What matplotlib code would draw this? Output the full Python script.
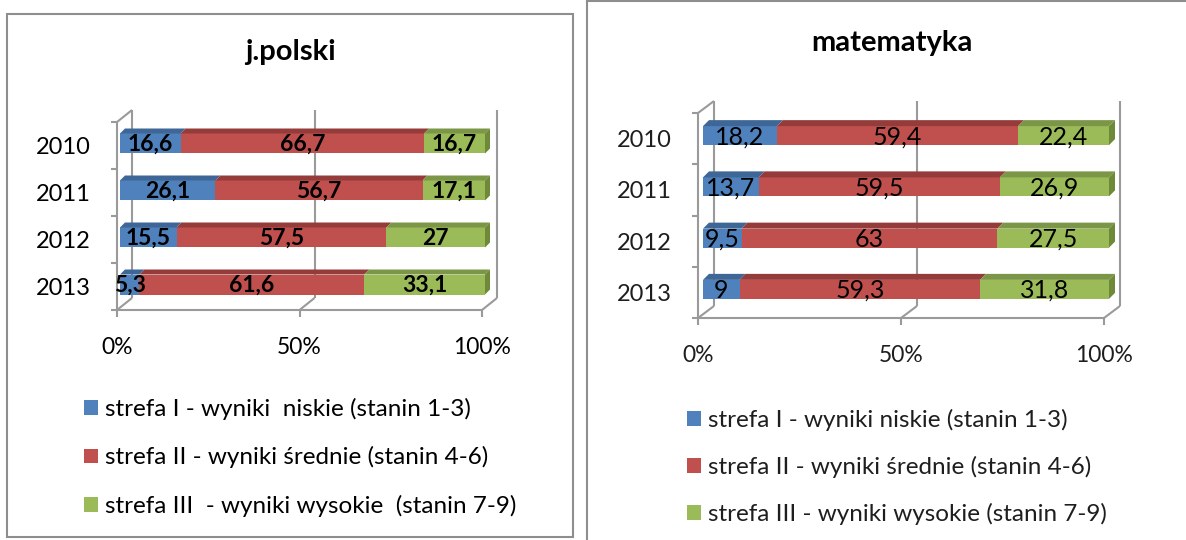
import numpy as np
import matplotlib.pyplot as plt
from matplotlib.patches import Polygon, Rectangle
from matplotlib.lines import Line2D

plt.rcParams['font.family'] = ['Lato', 'DejaVu Sans']

# data (percent of students per zone)
years = ["2010", "2011", "2012", "2013"]
pl_low = [16.6, 26.1, 15.5, 5.3]
pl_mid = [66.7, 56.7, 57.5, 61.6]
pl_high = [16.7, 17.1, 27, 33.1]
mat_low = [18.2, 13.7, 9.5, 9]
mat_mid = [59.4, 59.5, 63, 59.3]
mat_high = [22.4, 26.9, 27.5, 31.8]
ticks = [0, 50, 100]
tick_labels = ["0%", "50%", "100%"]

pl_legend = ["strefa I - wyniki  niskie (stanin 1-3)",
             "strefa II - wyniki średnie (stanin 4-6)",
             "strefa III  - wyniki wysokie  (stanin 7-9)"]
mat_legend = ["strefa I - wyniki niskie (stanin 1-3)",
              "strefa II - wyniki średnie (stanin 4-6)",
              "strefa III - wyniki wysokie (stanin 7-9)"]

FACE = ["#4F81BD", "#C0504D", "#9BBB59"]
TOP = ["#3E6797", "#953C3A", "#7C9647"]
SIDE = "#6E8A38"
GRID = "#9a9a9a"

W, H = 1186, 540
fig = plt.figure(figsize=(W / 100, H / 100), dpi=100)


def fx(px):
    return px / W


def fy(py):
    return 1 - py / H


def fmt(v):
    return f"{v:g}".replace(".", ",")


def draw_panel(title, series, legend_labels, x0, x100, ytop, ybot, wall, bar_off,
               bar_h, depth, title_xy, label_size, label_weight, leg_xy, leg_gap,
               txt_color):
    ax = fig.add_axes([fx(x0), fy(ybot), (x100 - x0) / W, (ybot - ytop) / H])
    ax.set_xlim(0, 100)
    ax.set_ylim(len(years) - 0.5, -0.5)
    ax.axis("off")

    ux = 100 / (x100 - x0)            # data units per pixel
    uy = len(years) / (ybot - ytop)
    wdx, wdy = wall[0] * ux, wall[1] * uy
    bottom, top = len(years) - 0.5, -0.5

    # 3d frame: front axis, floor, back wall grid
    kw = dict(color=GRID, lw=1.5, clip_on=False, solid_capstyle="butt")
    ax.plot([0, 0], [top, bottom], **kw)
    ax.plot([0, 100], [bottom, bottom], **kw)
    ax.plot([0, wdx], [top, top - wdy], **kw)
    for g in ticks:
        ax.plot([g, g + wdx], [bottom, bottom - wdy], **kw)
        ax.plot([g + wdx, g + wdx], [bottom - wdy, top - wdy], **kw)
        ax.plot([g, g], [bottom, bottom + 7 * uy], **kw)
    for k in range(len(years) + 1):
        ax.plot([0, -6 * ux], [top + k, top + k], **kw)

    # stacked 100% bars
    data = np.array(series, dtype=float)
    shares = data / data.sum(axis=0) * 100
    pos = np.arange(len(years)) - bar_off[1] * uy
    bh = bar_h * uy
    left = np.zeros(len(years)) + bar_off[0] * ux
    dx, dy = depth * ux, depth * uy
    handles = []
    for i in range(len(series)):
        bars = ax.barh(pos, shares[i], left=left, height=bh, color=FACE[i],
                       edgecolor="none", clip_on=False, zorder=3)
        handles.append(bars)
        for j in range(len(years)):
            l, r = left[j], left[j] + shares[i][j]
            yt, yb = pos[j] - bh / 2, pos[j] + bh / 2
            ax.add_patch(Polygon([(l, yt), (r, yt), (r + dx, yt - dy), (l + dx, yt - dy)],
                                 closed=True, fc=TOP[i], ec="none", clip_on=False, zorder=3))
            if i == len(series) - 1:
                ax.add_patch(Polygon([(r, yt), (r + dx, yt - dy), (r + dx, yb - dy), (r, yb)],
                                     closed=True, fc=SIDE, ec="none", clip_on=False, zorder=3))
            ax.text((l + r) / 2, pos[j] + 1 * uy, fmt(series[i][j]), ha="center", va="center",
                    fontsize=label_size, fontweight=label_weight, color="black", zorder=5)
        left = left + shares[i]

    # category labels and percent ticks
    for k, yr in enumerate(years):
        ax.text(-26 * ux, k + 2 * uy, yr, ha="right", va="center", fontsize=17,
                color=txt_color)
    for g, t in zip(ticks, tick_labels):
        ax.text(g, bottom + 37 * uy, t, ha="center", va="center", fontsize=16.5,
                color=txt_color)

    fig.text(fx(title_xy[0]), fy(title_xy[1]), title, ha="center", va="center",
             fontsize=21, fontweight="bold", color="black")

    leg = ax.legend(handles, legend_labels, loc="upper left",
                    bbox_to_anchor=(fx(leg_xy[0]), fy(leg_xy[1])),
                    bbox_transform=fig.transFigure, frameon=False, fontsize=17.5,
                    handlelength=0.58, handleheight=0.55, handletextpad=0.3,
                    labelspacing=leg_gap, borderpad=0, borderaxespad=0)
    for t in leg.get_texts():
        t.set_color(txt_color)


draw_panel("j.polski", [pl_low, pl_mid, pl_high], pl_legend,
           x0=117, x100=482, ytop=122, ybot=310, wall=(15, 12), bar_off=(3, 2),
           bar_h=20, depth=5, title_xy=(290, 52), label_size=16.5, label_weight="bold",
           leg_xy=(84, 398), leg_gap=1.08, txt_color="black")

draw_panel("matematyka", [mat_low, mat_mid, mat_high], mat_legend,
           x0=698, x100=1104, ytop=113, ybot=318, wall=(16, 12), bar_off=(5, 3),
           bar_h=19, depth=6, title_xy=(892, 43), label_size=18, label_weight="normal",
           leg_xy=(687, 409), leg_gap=1.02, txt_color="#1e1e1e")

# panel frames
fig.add_artist(Rectangle((fx(7), fy(537)), fx(573) - fx(7), fy(14) - fy(537),
                         transform=fig.transFigure, fill=False, ec="#8e8e8e", lw=1.5))
fig.add_artist(Line2D([fx(587), fx(587)], [0, fy(1)], transform=fig.transFigure,
                      color="#8e8e8e", lw=1.5))
fig.add_artist(Line2D([fx(587), 1], [fy(1), fy(1)], transform=fig.transFigure,
                      color="#8e8e8e", lw=1.5))

fig.savefig("out.png", dpi=100, facecolor="white")
